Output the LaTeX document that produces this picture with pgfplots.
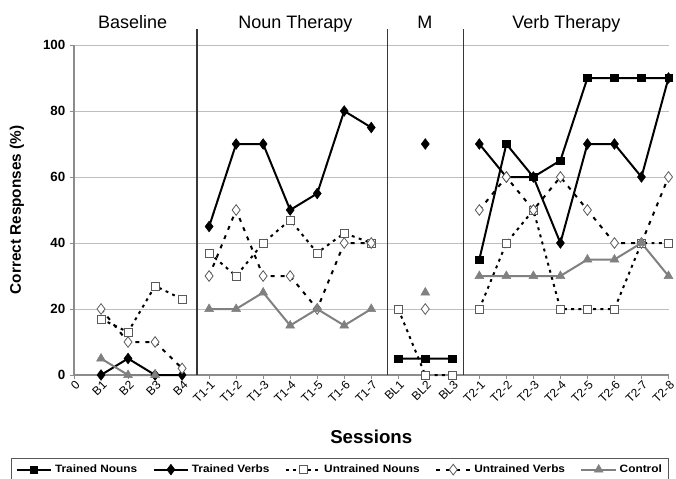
\documentclass[border=0pt]{standalone}
\usepackage{fontspec}
\setmainfont{Liberation Sans}
\newfontfamily\legfont[FakeStretch=1.11]{Liberation Sans}
\usepackage{pgfplots}
\pgfplotsset{compat=1.18}
\definecolor{ctrl}{RGB}{128,128,128}
\definecolor{gridc}{RGB}{190,190,190}
\definecolor{axisc}{RGB}{140,140,140}
\definecolor{sepc}{RGB}{55,55,55}
\definecolor{openc}{RGB}{90,90,90}
\begin{document}
\begin{tikzpicture}
\useasboundingbox (-55.5pt,-78pt) rectangle (451.5pt,281.25pt);
\begin{axis}[
  at={(0,0)}, anchor=south west,
  scale only axis, width=445.875pt, height=247.5pt,
  xmin=0, xmax=22, ymin=0, ymax=100,
  xtick={0,...,22},
  xticklabels={0,B1,B2,B3,B4,T1-1,T1-2,T1-3,T1-4,T1-5,T1-6,T1-7,BL1,BL2,BL3,T2-1,T2-2,T2-3,T2-4,T2-5,T2-6,T2-7,T2-8},
  ytick={0,20,...,100},
  axis x line*=bottom, axis y line*=left,
  ymajorgrids, grid style={gridc, line width=0.6pt},
  axis line style={axisc, line width=0.8pt},
  tick style={axisc, line width=0.6pt},
  tick align=outside, major tick length=3pt,
  /pgf/number format/assume math mode=true,
  xticklabel style={rotate=45, anchor=east, font=\fontsize{9}{10}\selectfont, inner sep=1pt, yshift=-4pt, xshift=1pt},
  yticklabel style={font=\fontsize{10}{12}\selectfont\bfseries},
  xlabel={Sessions}, ylabel={Correct Responses (\%)},
  xlabel style={font=\fontsize{14}{16}\selectfont\bfseries, at={(axis description cs:0.5,-0.188)}, anchor=center},
  ylabel style={font=\fontsize{11.5}{13}\selectfont\bfseries, at={(axis description cs:-0.096,0.5)}, anchor=center},
  clip=false,
  unbounded coords=jump,
  legend columns=5,
  legend image code/.code={\draw[mark repeat=2,mark phase=2,#1] plot coordinates {(0pt,0pt) (13pt,0pt) (26pt,0pt)};},
  legend style={at={(axis description cs:-0.1055,-0.2506)}, anchor=north west, draw=black!65, line width=0.6pt,
    font=\legfont\fontsize{8}{9.5}\selectfont\bfseries, inner ysep=3pt, inner xsep=3pt,
    /tikz/every even column/.append style={column sep=9.5pt}},
]
\addplot[black, line width=1.5pt, mark=square*, mark size=2.8pt, mark options={solid, line width=0.4pt}]
  coordinates {(12,5) (13,5) (14,5) (14.5,nan) (15,35) (16,70) (17,60) (18,65) (19,90) (20,90) (21,90) (22,90)};
\addlegendentry{Trained Nouns}
\addplot[black, line width=1.5pt, mark=diamond*, mark size=4pt, mark options={solid, line width=0.4pt}]
  coordinates {(1,0) (2,5) (3,0) (4,0) (4.5,nan) (5,45) (6,70) (7,70) (8,50) (9,55) (10,80) (11,75) (11.5,nan) (13,70) (14.5,nan) (15,70) (16,60) (17,60) (18,40) (19,70) (20,70) (21,60) (22,90)};
\addlegendentry{Trained Verbs}
\addplot[black, line width=1.5pt, dash pattern=on 2.2pt off 3.3pt, mark=square*, mark size=3pt, mark options={solid, fill=white, draw=openc, line width=0.6pt}]
  coordinates {(1,17) (2,13) (3,27) (4,23) (4.5,nan) (5,37) (6,30) (7,40) (8,47) (9,37) (10,43) (11,40) (11.5,nan) (12,20) (13,0) (14,0) (14.5,nan) (15,20) (16,40) (17,50) (18,20) (19,20) (20,20) (21,40) (22,40)};
\addlegendentry{Untrained Nouns}
\addplot[black, line width=1.5pt, dash pattern=on 3pt off 4.5pt, mark=diamond*, mark size=4pt, mark options={solid, fill=white, draw=openc, line width=0.6pt}]
  coordinates {(1,20) (2,10) (3,10) (4,2) (4.5,nan) (5,30) (6,50) (7,30) (8,30) (9,20) (10,40) (11,40) (11.5,nan) (13,20) (14.5,nan) (15,50) (16,60) (17,50) (18,60) (19,50) (20,40) (21,40) (22,60)};
\addlegendentry{Untrained Verbs}
\addplot[ctrl, line width=1.5pt, mark=triangle*, mark size=3.8pt, mark options={solid, line width=0.4pt}]
  coordinates {(1,5) (2,0) (3,0) (4.5,nan) (5,20) (6,20) (7,25) (8,15) (9,20) (10,15) (11,20) (11.5,nan) (13,25) (14.5,nan) (15,30) (16,30) (17,30) (18,30) (19,35) (20,35) (21,40) (22,30)};
\addlegendentry{Control}
\draw[sepc, line width=0.9pt] (axis cs:4.55,0) -- (axis cs:4.55,104.8);
\draw[sepc, line width=0.9pt] (axis cs:11.6,0) -- (axis cs:11.6,104.8);
\draw[sepc, line width=0.9pt] (axis cs:14.42,0) -- (axis cs:14.42,104.8);
\node[anchor=base, font=\fontsize{13.5}{15}\selectfont, inner sep=0pt] at (axis cs:2.17,105.1) {Baseline};
\node[anchor=base, font=\fontsize{13.5}{15}\selectfont, inner sep=0pt] at (axis cs:8.19,105.1) {Noun Therapy};
\node[anchor=base, font=\fontsize{13.5}{15}\selectfont, inner sep=0pt] at (axis cs:12.98,105.1) {M};
\node[anchor=base, font=\fontsize{13.5}{15}\selectfont, inner sep=0pt] at (axis cs:18.22,105.1) {Verb Therapy};
\end{axis}
\end{tikzpicture}
\end{document}
